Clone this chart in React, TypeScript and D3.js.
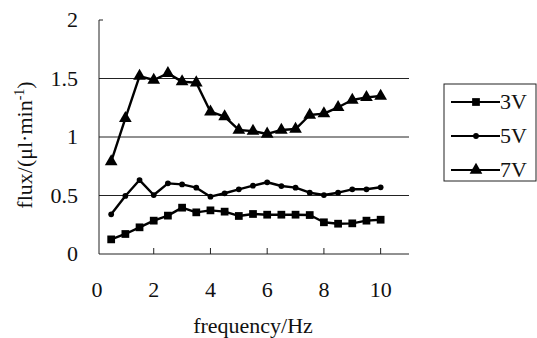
import React from "react";
import * as d3 from "d3";

const freq = [0.5, 1, 1.5, 2, 2.5, 3, 3.5, 4, 4.5, 5, 5.5, 6, 6.5, 7, 7.5, 8, 8.5, 9, 9.5, 10];
const v3 = [0.125, 0.171, 0.228, 0.285, 0.328, 0.396, 0.356, 0.373, 0.362, 0.325, 0.342, 0.336, 0.336, 0.336, 0.333, 0.271, 0.259, 0.262, 0.285, 0.293];
const v5 = [0.339, 0.496, 0.632, 0.504, 0.604, 0.595, 0.567, 0.49, 0.519, 0.553, 0.584, 0.613, 0.581, 0.567, 0.524, 0.504, 0.524, 0.553, 0.553, 0.57];
const v7 = [0.789, 1.16, 1.521, 1.487, 1.544, 1.473, 1.464, 1.216, 1.174, 1.06, 1.05, 1.026, 1.06, 1.068, 1.188, 1.2, 1.254, 1.316, 1.339, 1.35];
const seriesNames = ["3V", "5V", "7V"];
const xTicks = [0, 2, 4, 6, 8, 10];
const yTicks = [0, 0.5, 1, 1.5, 2];
const gridVals = [0.5, 1, 1.5];

const FONT = '"Liberation Serif", "Times New Roman", serif';

export default function App() {
  const x = d3.scaleLinear().domain([0, 11]).range([97, 409]);
  const y = d3.scaleLinear().domain([0, 2]).range([254, 20]);
  const x0 = 99;
  const series = [
    { name: seriesNames[0], vals: v3, sym: d3.symbolSquare, size: 60 },
    { name: seriesNames[1], vals: v5, sym: d3.symbolCircle, size: 26 },
    { name: seriesNames[2], vals: v7, sym: d3.symbolTriangle, size: 70 },
  ];
  const line = d3.line<number>().x((_, i) => x(freq[i])).y((d) => y(d));
  const legendY = [102, 136, 170];

  return (
    <svg width={537} height={338} style={{ position: "absolute", left: 0, top: 0, background: "#fff" }} fontFamily={FONT}>
      <rect x={0} y={0} width={537} height={338} fill="#fff" />
      {/* gridlines */}
      {gridVals.map((g) => (
        <line key={g} x1={x0} x2={x(11)} y1={y(g)} y2={y(g)} stroke="#222" strokeWidth={1} />
      ))}
      {/* axes */}
      <line x1={x0} x2={x0} y1={y(2)} y2={y(0)} stroke="#222" strokeWidth={1} />
      <line x1={x0} x2={x0 + 4} y1={y(2)} y2={y(2)} stroke="#222" strokeWidth={1} />
      <line x1={x0} x2={x(11)} y1={y(0)} y2={y(0)} stroke="#222" strokeWidth={1} />
      {xTicks.filter((t) => t > 0).map((t) => (
        <line key={t} x1={x(t)} x2={x(t)} y1={y(0)} y2={y(0) - 6} stroke="#222" strokeWidth={1} />
      ))}
      {/* tick labels */}
      {yTicks.map((t) => (
        <text key={t} x={78} y={y(t)} dy="0.33em" textAnchor="end" fontSize={22} fill="#111">
          {t}
        </text>
      ))}
      {xTicks.map((t) => (
        <text key={t} x={x(t)} y={297} textAnchor="middle" fontSize={22} fill="#111">
          {t}
        </text>
      ))}
      <text x={253} y={333} textAnchor="middle" fontSize={22} fill="#111">
        frequency/Hz
      </text>
      <text transform="translate(32,145) rotate(-90)" textAnchor="middle" fontSize={22} fill="#111">
        flux/(μl·min
        <tspan dy={-8} fontSize={14}>-1</tspan>
        <tspan dy={8}>)</tspan>
      </text>
      {/* series */}
      {series.map((s) => (
        <g key={s.name}>
          <path d={line(s.vals) || ""} fill="none" stroke="#000" strokeWidth={2.4} strokeLinejoin="round" />
          {s.vals.map((v, i) => (
            <path key={i} d={d3.symbol(s.sym, s.size)() || ""} transform={`translate(${x(freq[i])},${y(v)})`} fill="#000" />
          ))}
        </g>
      ))}
      {/* legend */}
      <rect x={444} y={84} width={92} height={97} fill="#fff" stroke="#222" strokeWidth={1} />
      {series.map((s, i) => (
        <g key={s.name}>
          <line x1={451} x2={500} y1={legendY[i]} y2={legendY[i]} stroke="#000" strokeWidth={2} />
          <path d={d3.symbol(s.sym, s.size)() || ""} transform={`translate(476,${legendY[i]})`} fill="#000" />
          <text x={500} y={legendY[i]} dy="0.33em" fontSize={22} fill="#111">
            {s.name}
          </text>
        </g>
      ))}
    </svg>
  );
}
